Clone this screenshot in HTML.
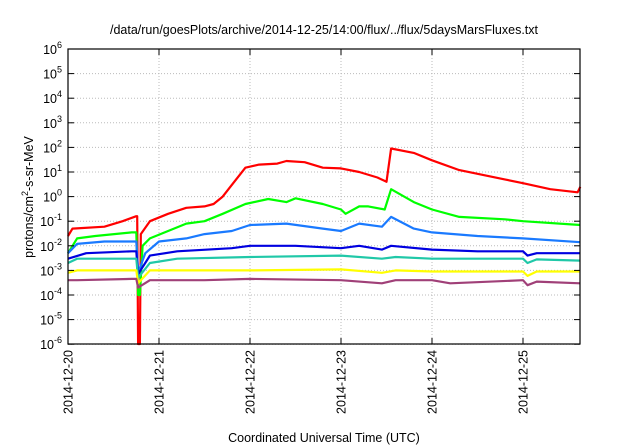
<!DOCTYPE html>
<html><head><meta charset="utf-8"><style>
body{margin:0;background:#fff;font-family:"Liberation Sans",sans-serif}
svg{display:block}
text{font-family:"Liberation Sans",sans-serif;fill:#000}
</style></head><body>
<svg id="chart" width="640" height="448" viewBox="0 0 640 448">
<text x="324" y="34" font-size="12.5" text-anchor="middle">/data/run/goesPlots/archive/2014-12-25/14:00/flux/../flux/5daysMarsFluxes.txt</text>
<g id="grid"></g>
<g id="series"></g>
<rect x="68" y="49" width="512" height="295" fill="none" stroke="#000" stroke-width="1.2"/>
<g id="axes"></g>
<text x="324" y="442" font-size="12.5" text-anchor="middle">Coordinated Universal Time (UTC)</text>
<text transform="translate(33,197) rotate(-90)" font-size="12.5" text-anchor="middle">protons/cm<tspan dy="-5" font-size="9">2</tspan><tspan dy="5">-s-sr-MeV</tspan></text>
</svg>
<script>
const xTickLabels=["2014-12-20","2014-12-21","2014-12-22","2014-12-23","2014-12-24","2014-12-25"];
const yExps=[-6,-5,-4,-3,-2,-1,0,1,2,3,4,5,6];
const redT=[0,0.05,0.4,0.6,0.75,0.76,0.77,0.79,0.8,0.9,1.1,1.3,1.5,1.6,1.7,1.8,1.95,2.1,2.3,2.4,2.6,2.8,3.0,3.2,3.4,3.5,3.55,3.8,4.0,4.3,4.8,5.0,5.3,5.6,5.63];
const redV=[0.025,0.05,0.06,0.1,0.16,0.16,1e-7,1e-7,0.03,0.1,0.2,0.35,0.4,0.5,1,3,15,20,22,28,25,15,14,10,6,4,90,60,30,12,5,3.5,2,1.5,2.5];
const greenT=[0,0.1,0.3,0.7,0.75,0.77,0.79,0.82,0.9,1.1,1.3,1.5,1.7,1.95,2.2,2.4,2.5,2.8,3.0,3.05,3.2,3.3,3.48,3.55,3.8,4.0,4.3,4.8,5.0,5.63];
const greenV=[0.005,0.02,0.025,0.035,0.035,1e-4,1e-4,0.01,0.02,0.04,0.08,0.1,0.2,0.5,0.8,0.6,0.85,0.5,0.3,0.2,0.4,0.4,0.3,2,0.6,0.3,0.15,0.12,0.1,0.07];
const blueT=[0,0.1,0.4,0.7,0.75,0.77,0.85,1.0,1.3,1.5,1.8,2.0,2.4,2.8,3.0,3.2,3.45,3.55,3.8,4.0,4.5,5.0,5.63];
const blueV=[0.005,0.012,0.015,0.015,0.015,0.0008,0.005,0.015,0.02,0.03,0.04,0.07,0.08,0.05,0.04,0.08,0.06,0.15,0.05,0.035,0.025,0.02,0.014];
const navyT=[0,0.2,0.7,0.75,0.77,0.9,1.2,1.8,2.0,2.5,3.0,3.2,3.45,3.55,4.0,4.5,5.0,5.05,5.15,5.63];
const navyV=[0.003,0.005,0.006,0.006,0.0007,0.004,0.006,0.008,0.01,0.01,0.008,0.01,0.007,0.01,0.007,0.006,0.006,0.004,0.005,0.005];
const tealT=[0,0.1,0.7,0.75,0.77,0.9,1.2,2.0,3.0,3.45,3.6,4.0,5.0,5.05,5.15,5.63];
const tealV=[0.002,0.003,0.003,0.003,0.0005,0.002,0.003,0.0035,0.004,0.003,0.0035,0.003,0.003,0.002,0.0028,0.0025];
const yellowT=[0,0.1,0.7,0.75,0.77,0.9,2.0,3.0,3.45,3.6,4.0,5.0,5.05,5.15,5.63];
const yellowV=[0.0008,0.001,0.001,0.001,0.0003,0.001,0.001,0.0011,0.0008,0.001,0.0009,0.0009,0.0006,0.0009,0.0009];
const purpleT=[0,0.1,0.7,0.75,0.77,0.9,1.5,2.0,3.0,3.45,3.6,4.0,4.2,5.0,5.05,5.15,5.63];
const purpleV=[0.0004,0.0004,0.00045,0.00045,0.0002,0.0004,0.0004,0.00045,0.0004,0.0003,0.0004,0.0004,0.0003,0.0004,0.00025,0.00035,0.0003];
const series=[[redT,redV,"#ff0000","red"],[greenT,greenV,"#00ff00","green"],[blueT,blueV,"#1a7aff","light-blue"],[navyT,navyV,"#0000e0","dark-blue"],[tealT,tealV,"#20c8a8","teal"],[yellowT,yellowV,"#ffff00","yellow"],[purpleT,purpleV,"#a04078","purple"]];
const L=68,R=580,T=49,B=344,dayPx=91;
const xs=t=>L+t*dayPx;
const ys=v=>{const y=196.6-Math.log10(v)*24.6;return Math.min(B,Math.max(T,y));};
const NS="http://www.w3.org/2000/svg";
const grid=document.getElementById('grid'),axes=document.getElementById('axes'),sg=document.getElementById('series');
function mk(tag,attrs,parent){const e=document.createElementNS(NS,tag);for(const k in attrs)e.setAttribute(k,attrs[k]);parent.appendChild(e);return e;}
yExps.forEach(e=>{const y=196.6-e*24.6;
 const g=mk('line',{x1:L,x2:R,y1:y,y2:y,stroke:"#bbb","stroke-dasharray":"1,2"},grid);
 
 
 mk('line',{x1:L,x2:L+6,y1:y,y2:y,stroke:"#000"},axes);
 mk('line',{x1:R,x2:R-6,y1:y,y2:y,stroke:"#000"},axes);
 const t=mk('text',{x:L-6,y:y+5,"font-size":"12.5","text-anchor":"end"},axes);
 
 
 t.innerHTML='10<tspan dy="-6" font-size="9">'+e+'</tspan>';
});
xTickLabels.forEach((lab,i)=>{const x=xs(i);
 const g=mk('line',{x1:x,x2:x,y1:T,y2:B,stroke:"#bbb","stroke-dasharray":"1,2"},grid);
 
 
 mk('line',{x1:x,x2:x,y1:B,y2:B-6,stroke:"#000"},axes);
 mk('line',{x1:x,x2:x,y1:T,y2:T+6,stroke:"#000"},axes);
 const t=mk('text',{transform:`translate(${x+4.5},${B+6}) rotate(-90)`,"font-size":"12.5","text-anchor":"end"},axes);
 
 
 t.textContent=lab;
});
series.forEach(([tt,vv,c,n])=>{
 const pts=tt.map((t,i)=>xs(t).toFixed(1)+','+ys(vv[i]).toFixed(1)).join(' ');
 const p=mk('polyline',{points:pts,fill:"none",stroke:c,"stroke-width":"2.2","stroke-linejoin":"round"},sg);
 
 
});
</script>
</body></html>
